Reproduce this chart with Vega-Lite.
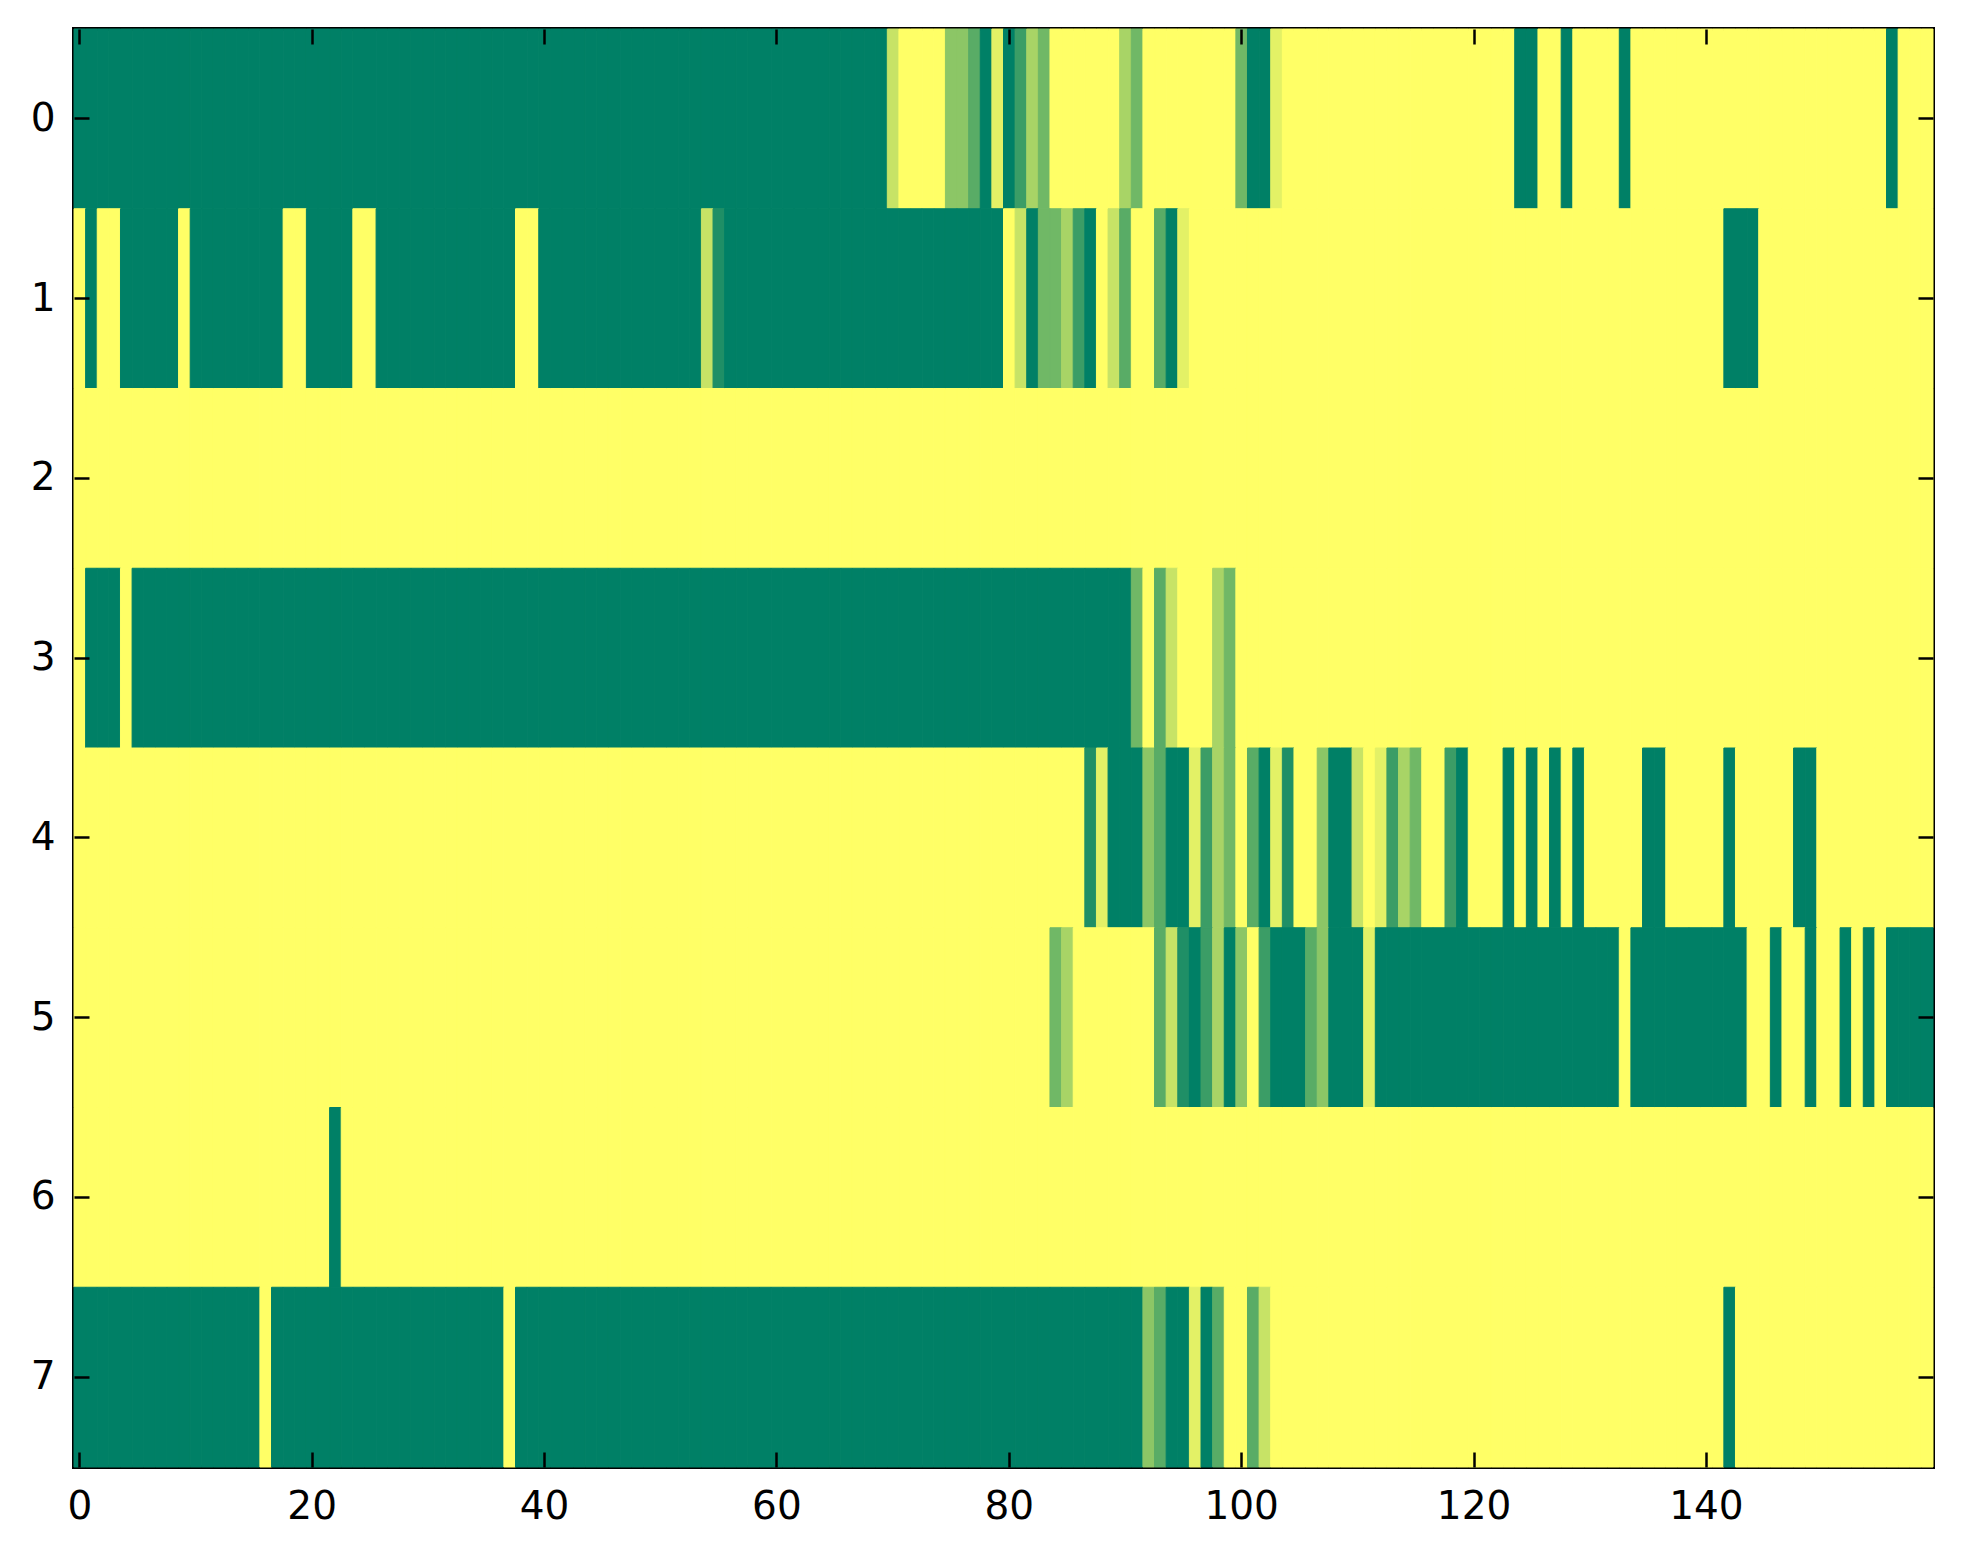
{
  "$schema": "https://vega.github.io/schema/vega-lite/v6.json",
  "description": "Heat map of 8 rows x 160 columns, summer colour map",
  "autosize": "none",
  "padding": {"left": 74, "top": 29, "right": 30, "bottom": 97},
  "width": 1859,
  "height": 1438,
  "background": "white",
  "config": {
    "view": {"stroke": "black", "strokeWidth": 4},
    "axis": {
      "labelFont": "DejaVu Sans",
      "labelFontSize": 39,
      "labelColor": "black",
      "tickColor": "black",
      "tickWidth": 2.5,
      "tickSize": -15,
      "domain": false,
      "grid": false,
      "title": null
    }
  },
  "data": {"values": [
{"r":0,"c":0,"v":0},{"r":0,"c":1,"v":0},{"r":0,"c":2,"v":0},{"r":0,"c":3,"v":0},{"r":0,"c":4,"v":0},{"r":0,"c":5,"v":0},{"r":0,"c":6,"v":0},{"r":0,"c":7,"v":0},{"r":0,"c":8,"v":0},{"r":0,"c":9,"v":0},
{"r":0,"c":10,"v":0},{"r":0,"c":11,"v":0},{"r":0,"c":12,"v":0},{"r":0,"c":13,"v":0},{"r":0,"c":14,"v":0},{"r":0,"c":15,"v":0},{"r":0,"c":16,"v":0},{"r":0,"c":17,"v":0},{"r":0,"c":18,"v":0},{"r":0,"c":19,"v":0},
{"r":0,"c":20,"v":0},{"r":0,"c":21,"v":0},{"r":0,"c":22,"v":0},{"r":0,"c":23,"v":0},{"r":0,"c":24,"v":0},{"r":0,"c":25,"v":0},{"r":0,"c":26,"v":0},{"r":0,"c":27,"v":0},{"r":0,"c":28,"v":0},{"r":0,"c":29,"v":0},
{"r":0,"c":30,"v":0},{"r":0,"c":31,"v":0},{"r":0,"c":32,"v":0},{"r":0,"c":33,"v":0},{"r":0,"c":34,"v":0},{"r":0,"c":35,"v":0},{"r":0,"c":36,"v":0},{"r":0,"c":37,"v":0},{"r":0,"c":38,"v":0},{"r":0,"c":39,"v":0},
{"r":0,"c":40,"v":0},{"r":0,"c":41,"v":0},{"r":0,"c":42,"v":0},{"r":0,"c":43,"v":0},{"r":0,"c":44,"v":0},{"r":0,"c":45,"v":0},{"r":0,"c":46,"v":0},{"r":0,"c":47,"v":0},{"r":0,"c":48,"v":0},{"r":0,"c":49,"v":0},
{"r":0,"c":50,"v":0},{"r":0,"c":51,"v":0},{"r":0,"c":52,"v":0},{"r":0,"c":53,"v":0},{"r":0,"c":54,"v":0},{"r":0,"c":55,"v":0},{"r":0,"c":56,"v":0},{"r":0,"c":57,"v":0},{"r":0,"c":58,"v":0},{"r":0,"c":59,"v":0},
{"r":0,"c":60,"v":0},{"r":0,"c":61,"v":0},{"r":0,"c":62,"v":0},{"r":0,"c":63,"v":0},{"r":0,"c":64,"v":0},{"r":0,"c":65,"v":0},{"r":0,"c":66,"v":0},{"r":0,"c":67,"v":0},{"r":0,"c":68,"v":0},{"r":0,"c":69,"v":0},
{"r":0,"c":70,"v":0.78},{"r":0,"c":71,"v":1},{"r":0,"c":72,"v":1},{"r":0,"c":73,"v":1},{"r":0,"c":74,"v":1},{"r":0,"c":75,"v":0.55},{"r":0,"c":76,"v":0.55},{"r":0,"c":77,"v":0.35},{"r":0,"c":78,"v":0},{"r":0,"c":79,"v":0.89},
{"r":0,"c":80,"v":0},{"r":0,"c":81,"v":0.23},{"r":0,"c":82,"v":0.66},{"r":0,"c":83,"v":0.44},{"r":0,"c":84,"v":1},{"r":0,"c":85,"v":1},{"r":0,"c":86,"v":1},{"r":0,"c":87,"v":1},{"r":0,"c":88,"v":1},{"r":0,"c":89,"v":1},
{"r":0,"c":90,"v":0.66},{"r":0,"c":91,"v":0.44},{"r":0,"c":92,"v":1},{"r":0,"c":93,"v":1},{"r":0,"c":94,"v":1},{"r":0,"c":95,"v":1},{"r":0,"c":96,"v":1},{"r":0,"c":97,"v":1},{"r":0,"c":98,"v":1},{"r":0,"c":99,"v":1},
{"r":0,"c":100,"v":0.44},{"r":0,"c":101,"v":0},{"r":0,"c":102,"v":0},{"r":0,"c":103,"v":0.89},{"r":0,"c":104,"v":1},{"r":0,"c":105,"v":1},{"r":0,"c":106,"v":1},{"r":0,"c":107,"v":1},{"r":0,"c":108,"v":1},{"r":0,"c":109,"v":1},
{"r":0,"c":110,"v":1},{"r":0,"c":111,"v":1},{"r":0,"c":112,"v":1},{"r":0,"c":113,"v":1},{"r":0,"c":114,"v":1},{"r":0,"c":115,"v":1},{"r":0,"c":116,"v":1},{"r":0,"c":117,"v":1},{"r":0,"c":118,"v":1},{"r":0,"c":119,"v":1},
{"r":0,"c":120,"v":1},{"r":0,"c":121,"v":1},{"r":0,"c":122,"v":1},{"r":0,"c":123,"v":1},{"r":0,"c":124,"v":0},{"r":0,"c":125,"v":0},{"r":0,"c":126,"v":1},{"r":0,"c":127,"v":1},{"r":0,"c":128,"v":0},{"r":0,"c":129,"v":1},
{"r":0,"c":130,"v":1},{"r":0,"c":131,"v":1},{"r":0,"c":132,"v":1},{"r":0,"c":133,"v":0},{"r":0,"c":134,"v":1},{"r":0,"c":135,"v":1},{"r":0,"c":136,"v":1},{"r":0,"c":137,"v":1},{"r":0,"c":138,"v":1},{"r":0,"c":139,"v":1},
{"r":0,"c":140,"v":1},{"r":0,"c":141,"v":1},{"r":0,"c":142,"v":1},{"r":0,"c":143,"v":1},{"r":0,"c":144,"v":1},{"r":0,"c":145,"v":1},{"r":0,"c":146,"v":1},{"r":0,"c":147,"v":1},{"r":0,"c":148,"v":1},{"r":0,"c":149,"v":1},
{"r":0,"c":150,"v":1},{"r":0,"c":151,"v":1},{"r":0,"c":152,"v":1},{"r":0,"c":153,"v":1},{"r":0,"c":154,"v":1},{"r":0,"c":155,"v":1},{"r":0,"c":156,"v":0},{"r":0,"c":157,"v":1},{"r":0,"c":158,"v":1},{"r":0,"c":159,"v":1},
{"r":1,"c":0,"v":1},{"r":1,"c":1,"v":0},{"r":1,"c":2,"v":1},{"r":1,"c":3,"v":1},{"r":1,"c":4,"v":0},{"r":1,"c":5,"v":0},{"r":1,"c":6,"v":0},{"r":1,"c":7,"v":0},{"r":1,"c":8,"v":0},{"r":1,"c":9,"v":1},
{"r":1,"c":10,"v":0},{"r":1,"c":11,"v":0},{"r":1,"c":12,"v":0},{"r":1,"c":13,"v":0},{"r":1,"c":14,"v":0},{"r":1,"c":15,"v":0},{"r":1,"c":16,"v":0},{"r":1,"c":17,"v":0},{"r":1,"c":18,"v":1},{"r":1,"c":19,"v":1},
{"r":1,"c":20,"v":0},{"r":1,"c":21,"v":0},{"r":1,"c":22,"v":0},{"r":1,"c":23,"v":0},{"r":1,"c":24,"v":1},{"r":1,"c":25,"v":1},{"r":1,"c":26,"v":0},{"r":1,"c":27,"v":0},{"r":1,"c":28,"v":0},{"r":1,"c":29,"v":0},
{"r":1,"c":30,"v":0},{"r":1,"c":31,"v":0},{"r":1,"c":32,"v":0},{"r":1,"c":33,"v":0},{"r":1,"c":34,"v":0},{"r":1,"c":35,"v":0},{"r":1,"c":36,"v":0},{"r":1,"c":37,"v":0},{"r":1,"c":38,"v":1},{"r":1,"c":39,"v":1},
{"r":1,"c":40,"v":0},{"r":1,"c":41,"v":0},{"r":1,"c":42,"v":0},{"r":1,"c":43,"v":0},{"r":1,"c":44,"v":0},{"r":1,"c":45,"v":0},{"r":1,"c":46,"v":0},{"r":1,"c":47,"v":0},{"r":1,"c":48,"v":0},{"r":1,"c":49,"v":0},
{"r":1,"c":50,"v":0},{"r":1,"c":51,"v":0},{"r":1,"c":52,"v":0},{"r":1,"c":53,"v":0},{"r":1,"c":54,"v":0.78},{"r":1,"c":55,"v":0.12},{"r":1,"c":56,"v":0},{"r":1,"c":57,"v":0},{"r":1,"c":58,"v":0},{"r":1,"c":59,"v":0},
{"r":1,"c":60,"v":0},{"r":1,"c":61,"v":0},{"r":1,"c":62,"v":0},{"r":1,"c":63,"v":0},{"r":1,"c":64,"v":0},{"r":1,"c":65,"v":0},{"r":1,"c":66,"v":0},{"r":1,"c":67,"v":0},{"r":1,"c":68,"v":0},{"r":1,"c":69,"v":0},
{"r":1,"c":70,"v":0},{"r":1,"c":71,"v":0},{"r":1,"c":72,"v":0},{"r":1,"c":73,"v":0},{"r":1,"c":74,"v":0},{"r":1,"c":75,"v":0},{"r":1,"c":76,"v":0},{"r":1,"c":77,"v":0},{"r":1,"c":78,"v":0},{"r":1,"c":79,"v":0},
{"r":1,"c":80,"v":1},{"r":1,"c":81,"v":0.78},{"r":1,"c":82,"v":0},{"r":1,"c":83,"v":0.44},{"r":1,"c":84,"v":0.44},{"r":1,"c":85,"v":0.66},{"r":1,"c":86,"v":0.23},{"r":1,"c":87,"v":0},{"r":1,"c":88,"v":1},{"r":1,"c":89,"v":0.78},
{"r":1,"c":90,"v":0.35},{"r":1,"c":91,"v":1},{"r":1,"c":92,"v":1},{"r":1,"c":93,"v":0.35},{"r":1,"c":94,"v":0},{"r":1,"c":95,"v":0.89},{"r":1,"c":96,"v":1},{"r":1,"c":97,"v":1},{"r":1,"c":98,"v":1},{"r":1,"c":99,"v":1},
{"r":1,"c":100,"v":1},{"r":1,"c":101,"v":1},{"r":1,"c":102,"v":1},{"r":1,"c":103,"v":1},{"r":1,"c":104,"v":1},{"r":1,"c":105,"v":1},{"r":1,"c":106,"v":1},{"r":1,"c":107,"v":1},{"r":1,"c":108,"v":1},{"r":1,"c":109,"v":1},
{"r":1,"c":110,"v":1},{"r":1,"c":111,"v":1},{"r":1,"c":112,"v":1},{"r":1,"c":113,"v":1},{"r":1,"c":114,"v":1},{"r":1,"c":115,"v":1},{"r":1,"c":116,"v":1},{"r":1,"c":117,"v":1},{"r":1,"c":118,"v":1},{"r":1,"c":119,"v":1},
{"r":1,"c":120,"v":1},{"r":1,"c":121,"v":1},{"r":1,"c":122,"v":1},{"r":1,"c":123,"v":1},{"r":1,"c":124,"v":1},{"r":1,"c":125,"v":1},{"r":1,"c":126,"v":1},{"r":1,"c":127,"v":1},{"r":1,"c":128,"v":1},{"r":1,"c":129,"v":1},
{"r":1,"c":130,"v":1},{"r":1,"c":131,"v":1},{"r":1,"c":132,"v":1},{"r":1,"c":133,"v":1},{"r":1,"c":134,"v":1},{"r":1,"c":135,"v":1},{"r":1,"c":136,"v":1},{"r":1,"c":137,"v":1},{"r":1,"c":138,"v":1},{"r":1,"c":139,"v":1},
{"r":1,"c":140,"v":1},{"r":1,"c":141,"v":1},{"r":1,"c":142,"v":0},{"r":1,"c":143,"v":0},{"r":1,"c":144,"v":0},{"r":1,"c":145,"v":1},{"r":1,"c":146,"v":1},{"r":1,"c":147,"v":1},{"r":1,"c":148,"v":1},{"r":1,"c":149,"v":1},
{"r":1,"c":150,"v":1},{"r":1,"c":151,"v":1},{"r":1,"c":152,"v":1},{"r":1,"c":153,"v":1},{"r":1,"c":154,"v":1},{"r":1,"c":155,"v":1},{"r":1,"c":156,"v":1},{"r":1,"c":157,"v":1},{"r":1,"c":158,"v":1},{"r":1,"c":159,"v":1},
{"r":2,"c":0,"v":1},{"r":2,"c":1,"v":1},{"r":2,"c":2,"v":1},{"r":2,"c":3,"v":1},{"r":2,"c":4,"v":1},{"r":2,"c":5,"v":1},{"r":2,"c":6,"v":1},{"r":2,"c":7,"v":1},{"r":2,"c":8,"v":1},{"r":2,"c":9,"v":1},
{"r":2,"c":10,"v":1},{"r":2,"c":11,"v":1},{"r":2,"c":12,"v":1},{"r":2,"c":13,"v":1},{"r":2,"c":14,"v":1},{"r":2,"c":15,"v":1},{"r":2,"c":16,"v":1},{"r":2,"c":17,"v":1},{"r":2,"c":18,"v":1},{"r":2,"c":19,"v":1},
{"r":2,"c":20,"v":1},{"r":2,"c":21,"v":1},{"r":2,"c":22,"v":1},{"r":2,"c":23,"v":1},{"r":2,"c":24,"v":1},{"r":2,"c":25,"v":1},{"r":2,"c":26,"v":1},{"r":2,"c":27,"v":1},{"r":2,"c":28,"v":1},{"r":2,"c":29,"v":1},
{"r":2,"c":30,"v":1},{"r":2,"c":31,"v":1},{"r":2,"c":32,"v":1},{"r":2,"c":33,"v":1},{"r":2,"c":34,"v":1},{"r":2,"c":35,"v":1},{"r":2,"c":36,"v":1},{"r":2,"c":37,"v":1},{"r":2,"c":38,"v":1},{"r":2,"c":39,"v":1},
{"r":2,"c":40,"v":1},{"r":2,"c":41,"v":1},{"r":2,"c":42,"v":1},{"r":2,"c":43,"v":1},{"r":2,"c":44,"v":1},{"r":2,"c":45,"v":1},{"r":2,"c":46,"v":1},{"r":2,"c":47,"v":1},{"r":2,"c":48,"v":1},{"r":2,"c":49,"v":1},
{"r":2,"c":50,"v":1},{"r":2,"c":51,"v":1},{"r":2,"c":52,"v":1},{"r":2,"c":53,"v":1},{"r":2,"c":54,"v":1},{"r":2,"c":55,"v":1},{"r":2,"c":56,"v":1},{"r":2,"c":57,"v":1},{"r":2,"c":58,"v":1},{"r":2,"c":59,"v":1},
{"r":2,"c":60,"v":1},{"r":2,"c":61,"v":1},{"r":2,"c":62,"v":1},{"r":2,"c":63,"v":1},{"r":2,"c":64,"v":1},{"r":2,"c":65,"v":1},{"r":2,"c":66,"v":1},{"r":2,"c":67,"v":1},{"r":2,"c":68,"v":1},{"r":2,"c":69,"v":1},
{"r":2,"c":70,"v":1},{"r":2,"c":71,"v":1},{"r":2,"c":72,"v":1},{"r":2,"c":73,"v":1},{"r":2,"c":74,"v":1},{"r":2,"c":75,"v":1},{"r":2,"c":76,"v":1},{"r":2,"c":77,"v":1},{"r":2,"c":78,"v":1},{"r":2,"c":79,"v":1},
{"r":2,"c":80,"v":1},{"r":2,"c":81,"v":1},{"r":2,"c":82,"v":1},{"r":2,"c":83,"v":1},{"r":2,"c":84,"v":1},{"r":2,"c":85,"v":1},{"r":2,"c":86,"v":1},{"r":2,"c":87,"v":1},{"r":2,"c":88,"v":1},{"r":2,"c":89,"v":1},
{"r":2,"c":90,"v":1},{"r":2,"c":91,"v":1},{"r":2,"c":92,"v":1},{"r":2,"c":93,"v":1},{"r":2,"c":94,"v":1},{"r":2,"c":95,"v":1},{"r":2,"c":96,"v":1},{"r":2,"c":97,"v":1},{"r":2,"c":98,"v":1},{"r":2,"c":99,"v":1},
{"r":2,"c":100,"v":1},{"r":2,"c":101,"v":1},{"r":2,"c":102,"v":1},{"r":2,"c":103,"v":1},{"r":2,"c":104,"v":1},{"r":2,"c":105,"v":1},{"r":2,"c":106,"v":1},{"r":2,"c":107,"v":1},{"r":2,"c":108,"v":1},{"r":2,"c":109,"v":1},
{"r":2,"c":110,"v":1},{"r":2,"c":111,"v":1},{"r":2,"c":112,"v":1},{"r":2,"c":113,"v":1},{"r":2,"c":114,"v":1},{"r":2,"c":115,"v":1},{"r":2,"c":116,"v":1},{"r":2,"c":117,"v":1},{"r":2,"c":118,"v":1},{"r":2,"c":119,"v":1},
{"r":2,"c":120,"v":1},{"r":2,"c":121,"v":1},{"r":2,"c":122,"v":1},{"r":2,"c":123,"v":1},{"r":2,"c":124,"v":1},{"r":2,"c":125,"v":1},{"r":2,"c":126,"v":1},{"r":2,"c":127,"v":1},{"r":2,"c":128,"v":1},{"r":2,"c":129,"v":1},
{"r":2,"c":130,"v":1},{"r":2,"c":131,"v":1},{"r":2,"c":132,"v":1},{"r":2,"c":133,"v":1},{"r":2,"c":134,"v":1},{"r":2,"c":135,"v":1},{"r":2,"c":136,"v":1},{"r":2,"c":137,"v":1},{"r":2,"c":138,"v":1},{"r":2,"c":139,"v":1},
{"r":2,"c":140,"v":1},{"r":2,"c":141,"v":1},{"r":2,"c":142,"v":1},{"r":2,"c":143,"v":1},{"r":2,"c":144,"v":1},{"r":2,"c":145,"v":1},{"r":2,"c":146,"v":1},{"r":2,"c":147,"v":1},{"r":2,"c":148,"v":1},{"r":2,"c":149,"v":1},
{"r":2,"c":150,"v":1},{"r":2,"c":151,"v":1},{"r":2,"c":152,"v":1},{"r":2,"c":153,"v":1},{"r":2,"c":154,"v":1},{"r":2,"c":155,"v":1},{"r":2,"c":156,"v":1},{"r":2,"c":157,"v":1},{"r":2,"c":158,"v":1},{"r":2,"c":159,"v":1},
{"r":3,"c":0,"v":1},{"r":3,"c":1,"v":0},{"r":3,"c":2,"v":0},{"r":3,"c":3,"v":0},{"r":3,"c":4,"v":1},{"r":3,"c":5,"v":0},{"r":3,"c":6,"v":0},{"r":3,"c":7,"v":0},{"r":3,"c":8,"v":0},{"r":3,"c":9,"v":0},
{"r":3,"c":10,"v":0},{"r":3,"c":11,"v":0},{"r":3,"c":12,"v":0},{"r":3,"c":13,"v":0},{"r":3,"c":14,"v":0},{"r":3,"c":15,"v":0},{"r":3,"c":16,"v":0},{"r":3,"c":17,"v":0},{"r":3,"c":18,"v":0},{"r":3,"c":19,"v":0},
{"r":3,"c":20,"v":0},{"r":3,"c":21,"v":0},{"r":3,"c":22,"v":0},{"r":3,"c":23,"v":0},{"r":3,"c":24,"v":0},{"r":3,"c":25,"v":0},{"r":3,"c":26,"v":0},{"r":3,"c":27,"v":0},{"r":3,"c":28,"v":0},{"r":3,"c":29,"v":0},
{"r":3,"c":30,"v":0},{"r":3,"c":31,"v":0},{"r":3,"c":32,"v":0},{"r":3,"c":33,"v":0},{"r":3,"c":34,"v":0},{"r":3,"c":35,"v":0},{"r":3,"c":36,"v":0},{"r":3,"c":37,"v":0},{"r":3,"c":38,"v":0},{"r":3,"c":39,"v":0},
{"r":3,"c":40,"v":0},{"r":3,"c":41,"v":0},{"r":3,"c":42,"v":0},{"r":3,"c":43,"v":0},{"r":3,"c":44,"v":0},{"r":3,"c":45,"v":0},{"r":3,"c":46,"v":0},{"r":3,"c":47,"v":0},{"r":3,"c":48,"v":0},{"r":3,"c":49,"v":0},
{"r":3,"c":50,"v":0},{"r":3,"c":51,"v":0},{"r":3,"c":52,"v":0},{"r":3,"c":53,"v":0},{"r":3,"c":54,"v":0},{"r":3,"c":55,"v":0},{"r":3,"c":56,"v":0},{"r":3,"c":57,"v":0},{"r":3,"c":58,"v":0},{"r":3,"c":59,"v":0},
{"r":3,"c":60,"v":0},{"r":3,"c":61,"v":0},{"r":3,"c":62,"v":0},{"r":3,"c":63,"v":0},{"r":3,"c":64,"v":0},{"r":3,"c":65,"v":0},{"r":3,"c":66,"v":0},{"r":3,"c":67,"v":0},{"r":3,"c":68,"v":0},{"r":3,"c":69,"v":0},
{"r":3,"c":70,"v":0},{"r":3,"c":71,"v":0},{"r":3,"c":72,"v":0},{"r":3,"c":73,"v":0},{"r":3,"c":74,"v":0},{"r":3,"c":75,"v":0},{"r":3,"c":76,"v":0},{"r":3,"c":77,"v":0},{"r":3,"c":78,"v":0},{"r":3,"c":79,"v":0},
{"r":3,"c":80,"v":0},{"r":3,"c":81,"v":0},{"r":3,"c":82,"v":0},{"r":3,"c":83,"v":0},{"r":3,"c":84,"v":0},{"r":3,"c":85,"v":0},{"r":3,"c":86,"v":0},{"r":3,"c":87,"v":0},{"r":3,"c":88,"v":0},{"r":3,"c":89,"v":0},
{"r":3,"c":90,"v":0},{"r":3,"c":91,"v":0.44},{"r":3,"c":92,"v":1},{"r":3,"c":93,"v":0.35},{"r":3,"c":94,"v":0.78},{"r":3,"c":95,"v":1},{"r":3,"c":96,"v":1},{"r":3,"c":97,"v":1},{"r":3,"c":98,"v":0.66},{"r":3,"c":99,"v":0.44},
{"r":3,"c":100,"v":1},{"r":3,"c":101,"v":1},{"r":3,"c":102,"v":1},{"r":3,"c":103,"v":1},{"r":3,"c":104,"v":1},{"r":3,"c":105,"v":1},{"r":3,"c":106,"v":1},{"r":3,"c":107,"v":1},{"r":3,"c":108,"v":1},{"r":3,"c":109,"v":1},
{"r":3,"c":110,"v":1},{"r":3,"c":111,"v":1},{"r":3,"c":112,"v":1},{"r":3,"c":113,"v":1},{"r":3,"c":114,"v":1},{"r":3,"c":115,"v":1},{"r":3,"c":116,"v":1},{"r":3,"c":117,"v":1},{"r":3,"c":118,"v":1},{"r":3,"c":119,"v":1},
{"r":3,"c":120,"v":1},{"r":3,"c":121,"v":1},{"r":3,"c":122,"v":1},{"r":3,"c":123,"v":1},{"r":3,"c":124,"v":1},{"r":3,"c":125,"v":1},{"r":3,"c":126,"v":1},{"r":3,"c":127,"v":1},{"r":3,"c":128,"v":1},{"r":3,"c":129,"v":1},
{"r":3,"c":130,"v":1},{"r":3,"c":131,"v":1},{"r":3,"c":132,"v":1},{"r":3,"c":133,"v":1},{"r":3,"c":134,"v":1},{"r":3,"c":135,"v":1},{"r":3,"c":136,"v":1},{"r":3,"c":137,"v":1},{"r":3,"c":138,"v":1},{"r":3,"c":139,"v":1},
{"r":3,"c":140,"v":1},{"r":3,"c":141,"v":1},{"r":3,"c":142,"v":1},{"r":3,"c":143,"v":1},{"r":3,"c":144,"v":1},{"r":3,"c":145,"v":1},{"r":3,"c":146,"v":1},{"r":3,"c":147,"v":1},{"r":3,"c":148,"v":1},{"r":3,"c":149,"v":1},
{"r":3,"c":150,"v":1},{"r":3,"c":151,"v":1},{"r":3,"c":152,"v":1},{"r":3,"c":153,"v":1},{"r":3,"c":154,"v":1},{"r":3,"c":155,"v":1},{"r":3,"c":156,"v":1},{"r":3,"c":157,"v":1},{"r":3,"c":158,"v":1},{"r":3,"c":159,"v":1},
{"r":4,"c":0,"v":1},{"r":4,"c":1,"v":1},{"r":4,"c":2,"v":1},{"r":4,"c":3,"v":1},{"r":4,"c":4,"v":1},{"r":4,"c":5,"v":1},{"r":4,"c":6,"v":1},{"r":4,"c":7,"v":1},{"r":4,"c":8,"v":1},{"r":4,"c":9,"v":1},
{"r":4,"c":10,"v":1},{"r":4,"c":11,"v":1},{"r":4,"c":12,"v":1},{"r":4,"c":13,"v":1},{"r":4,"c":14,"v":1},{"r":4,"c":15,"v":1},{"r":4,"c":16,"v":1},{"r":4,"c":17,"v":1},{"r":4,"c":18,"v":1},{"r":4,"c":19,"v":1},
{"r":4,"c":20,"v":1},{"r":4,"c":21,"v":1},{"r":4,"c":22,"v":1},{"r":4,"c":23,"v":1},{"r":4,"c":24,"v":1},{"r":4,"c":25,"v":1},{"r":4,"c":26,"v":1},{"r":4,"c":27,"v":1},{"r":4,"c":28,"v":1},{"r":4,"c":29,"v":1},
{"r":4,"c":30,"v":1},{"r":4,"c":31,"v":1},{"r":4,"c":32,"v":1},{"r":4,"c":33,"v":1},{"r":4,"c":34,"v":1},{"r":4,"c":35,"v":1},{"r":4,"c":36,"v":1},{"r":4,"c":37,"v":1},{"r":4,"c":38,"v":1},{"r":4,"c":39,"v":1},
{"r":4,"c":40,"v":1},{"r":4,"c":41,"v":1},{"r":4,"c":42,"v":1},{"r":4,"c":43,"v":1},{"r":4,"c":44,"v":1},{"r":4,"c":45,"v":1},{"r":4,"c":46,"v":1},{"r":4,"c":47,"v":1},{"r":4,"c":48,"v":1},{"r":4,"c":49,"v":1},
{"r":4,"c":50,"v":1},{"r":4,"c":51,"v":1},{"r":4,"c":52,"v":1},{"r":4,"c":53,"v":1},{"r":4,"c":54,"v":1},{"r":4,"c":55,"v":1},{"r":4,"c":56,"v":1},{"r":4,"c":57,"v":1},{"r":4,"c":58,"v":1},{"r":4,"c":59,"v":1},
{"r":4,"c":60,"v":1},{"r":4,"c":61,"v":1},{"r":4,"c":62,"v":1},{"r":4,"c":63,"v":1},{"r":4,"c":64,"v":1},{"r":4,"c":65,"v":1},{"r":4,"c":66,"v":1},{"r":4,"c":67,"v":1},{"r":4,"c":68,"v":1},{"r":4,"c":69,"v":1},
{"r":4,"c":70,"v":1},{"r":4,"c":71,"v":1},{"r":4,"c":72,"v":1},{"r":4,"c":73,"v":1},{"r":4,"c":74,"v":1},{"r":4,"c":75,"v":1},{"r":4,"c":76,"v":1},{"r":4,"c":77,"v":1},{"r":4,"c":78,"v":1},{"r":4,"c":79,"v":1},
{"r":4,"c":80,"v":1},{"r":4,"c":81,"v":1},{"r":4,"c":82,"v":1},{"r":4,"c":83,"v":1},{"r":4,"c":84,"v":1},{"r":4,"c":85,"v":1},{"r":4,"c":86,"v":1},{"r":4,"c":87,"v":0.12},{"r":4,"c":88,"v":0.89},{"r":4,"c":89,"v":0},
{"r":4,"c":90,"v":0},{"r":4,"c":91,"v":0},{"r":4,"c":92,"v":0.55},{"r":4,"c":93,"v":0.35},{"r":4,"c":94,"v":0},{"r":4,"c":95,"v":0},{"r":4,"c":96,"v":0.89},{"r":4,"c":97,"v":0.23},{"r":4,"c":98,"v":0.66},{"r":4,"c":99,"v":0.44},
{"r":4,"c":100,"v":1},{"r":4,"c":101,"v":0.35},{"r":4,"c":102,"v":0},{"r":4,"c":103,"v":0.89},{"r":4,"c":104,"v":0.12},{"r":4,"c":105,"v":1},{"r":4,"c":106,"v":1},{"r":4,"c":107,"v":0.55},{"r":4,"c":108,"v":0},{"r":4,"c":109,"v":0},
{"r":4,"c":110,"v":0.78},{"r":4,"c":111,"v":1},{"r":4,"c":112,"v":0.89},{"r":4,"c":113,"v":0.23},{"r":4,"c":114,"v":0.66},{"r":4,"c":115,"v":0.44},{"r":4,"c":116,"v":1},{"r":4,"c":117,"v":1},{"r":4,"c":118,"v":0.23},{"r":4,"c":119,"v":0},
{"r":4,"c":120,"v":1},{"r":4,"c":121,"v":1},{"r":4,"c":122,"v":1},{"r":4,"c":123,"v":0},{"r":4,"c":124,"v":1},{"r":4,"c":125,"v":0},{"r":4,"c":126,"v":1},{"r":4,"c":127,"v":0},{"r":4,"c":128,"v":1},{"r":4,"c":129,"v":0},
{"r":4,"c":130,"v":1},{"r":4,"c":131,"v":1},{"r":4,"c":132,"v":1},{"r":4,"c":133,"v":1},{"r":4,"c":134,"v":1},{"r":4,"c":135,"v":0},{"r":4,"c":136,"v":0},{"r":4,"c":137,"v":1},{"r":4,"c":138,"v":1},{"r":4,"c":139,"v":1},
{"r":4,"c":140,"v":1},{"r":4,"c":141,"v":1},{"r":4,"c":142,"v":0},{"r":4,"c":143,"v":1},{"r":4,"c":144,"v":1},{"r":4,"c":145,"v":1},{"r":4,"c":146,"v":1},{"r":4,"c":147,"v":1},{"r":4,"c":148,"v":0},{"r":4,"c":149,"v":0},
{"r":4,"c":150,"v":1},{"r":4,"c":151,"v":1},{"r":4,"c":152,"v":1},{"r":4,"c":153,"v":1},{"r":4,"c":154,"v":1},{"r":4,"c":155,"v":1},{"r":4,"c":156,"v":1},{"r":4,"c":157,"v":1},{"r":4,"c":158,"v":1},{"r":4,"c":159,"v":1},
{"r":5,"c":0,"v":1},{"r":5,"c":1,"v":1},{"r":5,"c":2,"v":1},{"r":5,"c":3,"v":1},{"r":5,"c":4,"v":1},{"r":5,"c":5,"v":1},{"r":5,"c":6,"v":1},{"r":5,"c":7,"v":1},{"r":5,"c":8,"v":1},{"r":5,"c":9,"v":1},
{"r":5,"c":10,"v":1},{"r":5,"c":11,"v":1},{"r":5,"c":12,"v":1},{"r":5,"c":13,"v":1},{"r":5,"c":14,"v":1},{"r":5,"c":15,"v":1},{"r":5,"c":16,"v":1},{"r":5,"c":17,"v":1},{"r":5,"c":18,"v":1},{"r":5,"c":19,"v":1},
{"r":5,"c":20,"v":1},{"r":5,"c":21,"v":1},{"r":5,"c":22,"v":1},{"r":5,"c":23,"v":1},{"r":5,"c":24,"v":1},{"r":5,"c":25,"v":1},{"r":5,"c":26,"v":1},{"r":5,"c":27,"v":1},{"r":5,"c":28,"v":1},{"r":5,"c":29,"v":1},
{"r":5,"c":30,"v":1},{"r":5,"c":31,"v":1},{"r":5,"c":32,"v":1},{"r":5,"c":33,"v":1},{"r":5,"c":34,"v":1},{"r":5,"c":35,"v":1},{"r":5,"c":36,"v":1},{"r":5,"c":37,"v":1},{"r":5,"c":38,"v":1},{"r":5,"c":39,"v":1},
{"r":5,"c":40,"v":1},{"r":5,"c":41,"v":1},{"r":5,"c":42,"v":1},{"r":5,"c":43,"v":1},{"r":5,"c":44,"v":1},{"r":5,"c":45,"v":1},{"r":5,"c":46,"v":1},{"r":5,"c":47,"v":1},{"r":5,"c":48,"v":1},{"r":5,"c":49,"v":1},
{"r":5,"c":50,"v":1},{"r":5,"c":51,"v":1},{"r":5,"c":52,"v":1},{"r":5,"c":53,"v":1},{"r":5,"c":54,"v":1},{"r":5,"c":55,"v":1},{"r":5,"c":56,"v":1},{"r":5,"c":57,"v":1},{"r":5,"c":58,"v":1},{"r":5,"c":59,"v":1},
{"r":5,"c":60,"v":1},{"r":5,"c":61,"v":1},{"r":5,"c":62,"v":1},{"r":5,"c":63,"v":1},{"r":5,"c":64,"v":1},{"r":5,"c":65,"v":1},{"r":5,"c":66,"v":1},{"r":5,"c":67,"v":1},{"r":5,"c":68,"v":1},{"r":5,"c":69,"v":1},
{"r":5,"c":70,"v":1},{"r":5,"c":71,"v":1},{"r":5,"c":72,"v":1},{"r":5,"c":73,"v":1},{"r":5,"c":74,"v":1},{"r":5,"c":75,"v":1},{"r":5,"c":76,"v":1},{"r":5,"c":77,"v":1},{"r":5,"c":78,"v":1},{"r":5,"c":79,"v":1},
{"r":5,"c":80,"v":1},{"r":5,"c":81,"v":1},{"r":5,"c":82,"v":1},{"r":5,"c":83,"v":1},{"r":5,"c":84,"v":0.44},{"r":5,"c":85,"v":0.66},{"r":5,"c":86,"v":1},{"r":5,"c":87,"v":1},{"r":5,"c":88,"v":1},{"r":5,"c":89,"v":1},
{"r":5,"c":90,"v":1},{"r":5,"c":91,"v":1},{"r":5,"c":92,"v":1},{"r":5,"c":93,"v":0.35},{"r":5,"c":94,"v":0.78},{"r":5,"c":95,"v":0.12},{"r":5,"c":96,"v":0},{"r":5,"c":97,"v":0.23},{"r":5,"c":98,"v":0.66},{"r":5,"c":99,"v":0},
{"r":5,"c":100,"v":0.55},{"r":5,"c":101,"v":1},{"r":5,"c":102,"v":0.23},{"r":5,"c":103,"v":0},{"r":5,"c":104,"v":0},{"r":5,"c":105,"v":0},{"r":5,"c":106,"v":0.35},{"r":5,"c":107,"v":0.55},{"r":5,"c":108,"v":0},{"r":5,"c":109,"v":0},
{"r":5,"c":110,"v":0},{"r":5,"c":111,"v":0.89},{"r":5,"c":112,"v":0},{"r":5,"c":113,"v":0},{"r":5,"c":114,"v":0},{"r":5,"c":115,"v":0},{"r":5,"c":116,"v":0},{"r":5,"c":117,"v":0},{"r":5,"c":118,"v":0},{"r":5,"c":119,"v":0},
{"r":5,"c":120,"v":0},{"r":5,"c":121,"v":0},{"r":5,"c":122,"v":0},{"r":5,"c":123,"v":0},{"r":5,"c":124,"v":0},{"r":5,"c":125,"v":0},{"r":5,"c":126,"v":0},{"r":5,"c":127,"v":0},{"r":5,"c":128,"v":0},{"r":5,"c":129,"v":0},
{"r":5,"c":130,"v":0},{"r":5,"c":131,"v":0},{"r":5,"c":132,"v":0},{"r":5,"c":133,"v":1},{"r":5,"c":134,"v":0},{"r":5,"c":135,"v":0},{"r":5,"c":136,"v":0},{"r":5,"c":137,"v":0},{"r":5,"c":138,"v":0},{"r":5,"c":139,"v":0},
{"r":5,"c":140,"v":0},{"r":5,"c":141,"v":0},{"r":5,"c":142,"v":0},{"r":5,"c":143,"v":0},{"r":5,"c":144,"v":1},{"r":5,"c":145,"v":1},{"r":5,"c":146,"v":0},{"r":5,"c":147,"v":1},{"r":5,"c":148,"v":1},{"r":5,"c":149,"v":0},
{"r":5,"c":150,"v":1},{"r":5,"c":151,"v":1},{"r":5,"c":152,"v":0},{"r":5,"c":153,"v":1},{"r":5,"c":154,"v":0},{"r":5,"c":155,"v":1},{"r":5,"c":156,"v":0},{"r":5,"c":157,"v":0},{"r":5,"c":158,"v":0},{"r":5,"c":159,"v":0},
{"r":6,"c":0,"v":1},{"r":6,"c":1,"v":1},{"r":6,"c":2,"v":1},{"r":6,"c":3,"v":1},{"r":6,"c":4,"v":1},{"r":6,"c":5,"v":1},{"r":6,"c":6,"v":1},{"r":6,"c":7,"v":1},{"r":6,"c":8,"v":1},{"r":6,"c":9,"v":1},
{"r":6,"c":10,"v":1},{"r":6,"c":11,"v":1},{"r":6,"c":12,"v":1},{"r":6,"c":13,"v":1},{"r":6,"c":14,"v":1},{"r":6,"c":15,"v":1},{"r":6,"c":16,"v":1},{"r":6,"c":17,"v":1},{"r":6,"c":18,"v":1},{"r":6,"c":19,"v":1},
{"r":6,"c":20,"v":1},{"r":6,"c":21,"v":1},{"r":6,"c":22,"v":0},{"r":6,"c":23,"v":1},{"r":6,"c":24,"v":1},{"r":6,"c":25,"v":1},{"r":6,"c":26,"v":1},{"r":6,"c":27,"v":1},{"r":6,"c":28,"v":1},{"r":6,"c":29,"v":1},
{"r":6,"c":30,"v":1},{"r":6,"c":31,"v":1},{"r":6,"c":32,"v":1},{"r":6,"c":33,"v":1},{"r":6,"c":34,"v":1},{"r":6,"c":35,"v":1},{"r":6,"c":36,"v":1},{"r":6,"c":37,"v":1},{"r":6,"c":38,"v":1},{"r":6,"c":39,"v":1},
{"r":6,"c":40,"v":1},{"r":6,"c":41,"v":1},{"r":6,"c":42,"v":1},{"r":6,"c":43,"v":1},{"r":6,"c":44,"v":1},{"r":6,"c":45,"v":1},{"r":6,"c":46,"v":1},{"r":6,"c":47,"v":1},{"r":6,"c":48,"v":1},{"r":6,"c":49,"v":1},
{"r":6,"c":50,"v":1},{"r":6,"c":51,"v":1},{"r":6,"c":52,"v":1},{"r":6,"c":53,"v":1},{"r":6,"c":54,"v":1},{"r":6,"c":55,"v":1},{"r":6,"c":56,"v":1},{"r":6,"c":57,"v":1},{"r":6,"c":58,"v":1},{"r":6,"c":59,"v":1},
{"r":6,"c":60,"v":1},{"r":6,"c":61,"v":1},{"r":6,"c":62,"v":1},{"r":6,"c":63,"v":1},{"r":6,"c":64,"v":1},{"r":6,"c":65,"v":1},{"r":6,"c":66,"v":1},{"r":6,"c":67,"v":1},{"r":6,"c":68,"v":1},{"r":6,"c":69,"v":1},
{"r":6,"c":70,"v":1},{"r":6,"c":71,"v":1},{"r":6,"c":72,"v":1},{"r":6,"c":73,"v":1},{"r":6,"c":74,"v":1},{"r":6,"c":75,"v":1},{"r":6,"c":76,"v":1},{"r":6,"c":77,"v":1},{"r":6,"c":78,"v":1},{"r":6,"c":79,"v":1},
{"r":6,"c":80,"v":1},{"r":6,"c":81,"v":1},{"r":6,"c":82,"v":1},{"r":6,"c":83,"v":1},{"r":6,"c":84,"v":1},{"r":6,"c":85,"v":1},{"r":6,"c":86,"v":1},{"r":6,"c":87,"v":1},{"r":6,"c":88,"v":1},{"r":6,"c":89,"v":1},
{"r":6,"c":90,"v":1},{"r":6,"c":91,"v":1},{"r":6,"c":92,"v":1},{"r":6,"c":93,"v":1},{"r":6,"c":94,"v":1},{"r":6,"c":95,"v":1},{"r":6,"c":96,"v":1},{"r":6,"c":97,"v":1},{"r":6,"c":98,"v":1},{"r":6,"c":99,"v":1},
{"r":6,"c":100,"v":1},{"r":6,"c":101,"v":1},{"r":6,"c":102,"v":1},{"r":6,"c":103,"v":1},{"r":6,"c":104,"v":1},{"r":6,"c":105,"v":1},{"r":6,"c":106,"v":1},{"r":6,"c":107,"v":1},{"r":6,"c":108,"v":1},{"r":6,"c":109,"v":1},
{"r":6,"c":110,"v":1},{"r":6,"c":111,"v":1},{"r":6,"c":112,"v":1},{"r":6,"c":113,"v":1},{"r":6,"c":114,"v":1},{"r":6,"c":115,"v":1},{"r":6,"c":116,"v":1},{"r":6,"c":117,"v":1},{"r":6,"c":118,"v":1},{"r":6,"c":119,"v":1},
{"r":6,"c":120,"v":1},{"r":6,"c":121,"v":1},{"r":6,"c":122,"v":1},{"r":6,"c":123,"v":1},{"r":6,"c":124,"v":1},{"r":6,"c":125,"v":1},{"r":6,"c":126,"v":1},{"r":6,"c":127,"v":1},{"r":6,"c":128,"v":1},{"r":6,"c":129,"v":1},
{"r":6,"c":130,"v":1},{"r":6,"c":131,"v":1},{"r":6,"c":132,"v":1},{"r":6,"c":133,"v":1},{"r":6,"c":134,"v":1},{"r":6,"c":135,"v":1},{"r":6,"c":136,"v":1},{"r":6,"c":137,"v":1},{"r":6,"c":138,"v":1},{"r":6,"c":139,"v":1},
{"r":6,"c":140,"v":1},{"r":6,"c":141,"v":1},{"r":6,"c":142,"v":1},{"r":6,"c":143,"v":1},{"r":6,"c":144,"v":1},{"r":6,"c":145,"v":1},{"r":6,"c":146,"v":1},{"r":6,"c":147,"v":1},{"r":6,"c":148,"v":1},{"r":6,"c":149,"v":1},
{"r":6,"c":150,"v":1},{"r":6,"c":151,"v":1},{"r":6,"c":152,"v":1},{"r":6,"c":153,"v":1},{"r":6,"c":154,"v":1},{"r":6,"c":155,"v":1},{"r":6,"c":156,"v":1},{"r":6,"c":157,"v":1},{"r":6,"c":158,"v":1},{"r":6,"c":159,"v":1},
{"r":7,"c":0,"v":0},{"r":7,"c":1,"v":0},{"r":7,"c":2,"v":0},{"r":7,"c":3,"v":0},{"r":7,"c":4,"v":0},{"r":7,"c":5,"v":0},{"r":7,"c":6,"v":0},{"r":7,"c":7,"v":0},{"r":7,"c":8,"v":0},{"r":7,"c":9,"v":0},
{"r":7,"c":10,"v":0},{"r":7,"c":11,"v":0},{"r":7,"c":12,"v":0},{"r":7,"c":13,"v":0},{"r":7,"c":14,"v":0},{"r":7,"c":15,"v":0},{"r":7,"c":16,"v":1},{"r":7,"c":17,"v":0},{"r":7,"c":18,"v":0},{"r":7,"c":19,"v":0},
{"r":7,"c":20,"v":0},{"r":7,"c":21,"v":0},{"r":7,"c":22,"v":0},{"r":7,"c":23,"v":0},{"r":7,"c":24,"v":0},{"r":7,"c":25,"v":0},{"r":7,"c":26,"v":0},{"r":7,"c":27,"v":0},{"r":7,"c":28,"v":0},{"r":7,"c":29,"v":0},
{"r":7,"c":30,"v":0},{"r":7,"c":31,"v":0},{"r":7,"c":32,"v":0},{"r":7,"c":33,"v":0},{"r":7,"c":34,"v":0},{"r":7,"c":35,"v":0},{"r":7,"c":36,"v":0},{"r":7,"c":37,"v":1},{"r":7,"c":38,"v":0},{"r":7,"c":39,"v":0},
{"r":7,"c":40,"v":0},{"r":7,"c":41,"v":0},{"r":7,"c":42,"v":0},{"r":7,"c":43,"v":0},{"r":7,"c":44,"v":0},{"r":7,"c":45,"v":0},{"r":7,"c":46,"v":0},{"r":7,"c":47,"v":0},{"r":7,"c":48,"v":0},{"r":7,"c":49,"v":0},
{"r":7,"c":50,"v":0},{"r":7,"c":51,"v":0},{"r":7,"c":52,"v":0},{"r":7,"c":53,"v":0},{"r":7,"c":54,"v":0},{"r":7,"c":55,"v":0},{"r":7,"c":56,"v":0},{"r":7,"c":57,"v":0},{"r":7,"c":58,"v":0},{"r":7,"c":59,"v":0},
{"r":7,"c":60,"v":0},{"r":7,"c":61,"v":0},{"r":7,"c":62,"v":0},{"r":7,"c":63,"v":0},{"r":7,"c":64,"v":0},{"r":7,"c":65,"v":0},{"r":7,"c":66,"v":0},{"r":7,"c":67,"v":0},{"r":7,"c":68,"v":0},{"r":7,"c":69,"v":0},
{"r":7,"c":70,"v":0},{"r":7,"c":71,"v":0},{"r":7,"c":72,"v":0},{"r":7,"c":73,"v":0},{"r":7,"c":74,"v":0},{"r":7,"c":75,"v":0},{"r":7,"c":76,"v":0},{"r":7,"c":77,"v":0},{"r":7,"c":78,"v":0},{"r":7,"c":79,"v":0},
{"r":7,"c":80,"v":0},{"r":7,"c":81,"v":0},{"r":7,"c":82,"v":0},{"r":7,"c":83,"v":0},{"r":7,"c":84,"v":0},{"r":7,"c":85,"v":0},{"r":7,"c":86,"v":0},{"r":7,"c":87,"v":0},{"r":7,"c":88,"v":0},{"r":7,"c":89,"v":0},
{"r":7,"c":90,"v":0},{"r":7,"c":91,"v":0},{"r":7,"c":92,"v":0.55},{"r":7,"c":93,"v":0.35},{"r":7,"c":94,"v":0},{"r":7,"c":95,"v":0},{"r":7,"c":96,"v":0.89},{"r":7,"c":97,"v":0},{"r":7,"c":98,"v":0.35},{"r":7,"c":99,"v":1},
{"r":7,"c":100,"v":1},{"r":7,"c":101,"v":0.35},{"r":7,"c":102,"v":0.78},{"r":7,"c":103,"v":1},{"r":7,"c":104,"v":1},{"r":7,"c":105,"v":1},{"r":7,"c":106,"v":1},{"r":7,"c":107,"v":1},{"r":7,"c":108,"v":1},{"r":7,"c":109,"v":1},
{"r":7,"c":110,"v":1},{"r":7,"c":111,"v":1},{"r":7,"c":112,"v":1},{"r":7,"c":113,"v":1},{"r":7,"c":114,"v":1},{"r":7,"c":115,"v":1},{"r":7,"c":116,"v":1},{"r":7,"c":117,"v":1},{"r":7,"c":118,"v":1},{"r":7,"c":119,"v":1},
{"r":7,"c":120,"v":1},{"r":7,"c":121,"v":1},{"r":7,"c":122,"v":1},{"r":7,"c":123,"v":1},{"r":7,"c":124,"v":1},{"r":7,"c":125,"v":1},{"r":7,"c":126,"v":1},{"r":7,"c":127,"v":1},{"r":7,"c":128,"v":1},{"r":7,"c":129,"v":1},
{"r":7,"c":130,"v":1},{"r":7,"c":131,"v":1},{"r":7,"c":132,"v":1},{"r":7,"c":133,"v":1},{"r":7,"c":134,"v":1},{"r":7,"c":135,"v":1},{"r":7,"c":136,"v":1},{"r":7,"c":137,"v":1},{"r":7,"c":138,"v":1},{"r":7,"c":139,"v":1},
{"r":7,"c":140,"v":1},{"r":7,"c":141,"v":1},{"r":7,"c":142,"v":0},{"r":7,"c":143,"v":1},{"r":7,"c":144,"v":1},{"r":7,"c":145,"v":1},{"r":7,"c":146,"v":1},{"r":7,"c":147,"v":1},{"r":7,"c":148,"v":1},{"r":7,"c":149,"v":1},
{"r":7,"c":150,"v":1},{"r":7,"c":151,"v":1},{"r":7,"c":152,"v":1},{"r":7,"c":153,"v":1},{"r":7,"c":154,"v":1},{"r":7,"c":155,"v":1},{"r":7,"c":156,"v":1},{"r":7,"c":157,"v":1},{"r":7,"c":158,"v":1},{"r":7,"c":159,"v":1}
  ]},
  "layer": [
    {
      "mark": {"type": "rect", "strokeWidth": 1, "strokeOpacity": 1, "opacity": 1},
      "encoding": {
        "x": {
          "field": "c",
          "type": "ordinal",
          "sort": "ascending",
          "scale": {"paddingInner": 0, "paddingOuter": 0},
          "axis": {"orient": "bottom", "values": [0, 20, 40, 60, 80, 100, 120, 140], "labelAngle": 0, "labelPadding": 35, "bandPosition": 0.5}
        },
        "y": {
          "field": "r",
          "type": "ordinal",
          "sort": "ascending",
          "scale": {"paddingInner": 0, "paddingOuter": 0},
          "axis": {"orient": "left", "labelPadding": 34, "bandPosition": 0.5}
        },
        "color": {
          "field": "v",
          "type": "quantitative",
          "scale": {"domain": [0, 1], "range": ["#008066", "#ffff66"], "interpolate": "rgb"},
          "legend": null
        },
        "stroke": {
          "field": "v",
          "type": "quantitative",
          "scale": {"domain": [0, 1], "range": ["#008066", "#ffff66"], "interpolate": "rgb"},
          "legend": null
        }
      }
    },
    {
      "mark": {"type": "rect", "opacity": 0},
      "encoding": {
        "x": {
          "field": "c",
          "type": "ordinal",
          "sort": "ascending",
          "scale": {"paddingInner": 0, "paddingOuter": 0},
          "axis": {"orient": "top", "values": [0, 20, 40, 60, 80, 100, 120, 140], "labels": false, "bandPosition": 0.5}
        },
        "y": {
          "field": "r",
          "type": "ordinal",
          "sort": "ascending",
          "scale": {"paddingInner": 0, "paddingOuter": 0},
          "axis": {"orient": "right", "labels": false, "bandPosition": 0.5}
        }
      }
    }
  ],
  "resolve": {"axis": {"x": "independent", "y": "independent"}}
}
